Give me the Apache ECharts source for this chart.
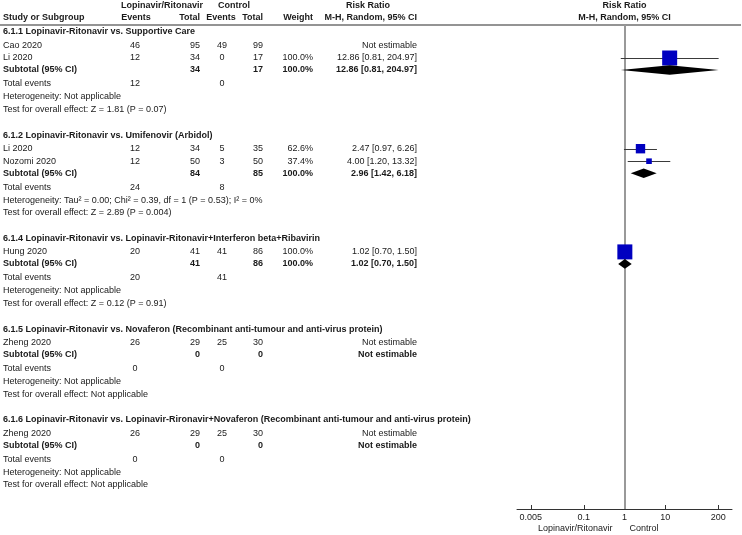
<!DOCTYPE html>
<html><head><meta charset="utf-8">
<script src="https://cdn.jsdelivr.net/npm/echarts@6/dist/echarts.min.js"></script>
<style>html,body{margin:0;padding:0;background:#fff}#c{width:742px;height:535px}</style>
</head><body><div id="c"></div>
<script>
// ================= DATA =================
const groupTitles = [
  '6.1.1 Lopinavir-Ritonavir vs. Supportive Care',
  '6.1.2 Lopinavir-Ritonavir vs. Umifenovir (Arbidol)',
  '6.1.4 Lopinavir-Ritonavir vs. Lopinavir-Ritonavir+Interferon beta+Ribavirin',
  '6.1.5 Lopinavir-Ritonavir vs. Novaferon (Recombinant anti-tumour and anti-virus protein)',
  '6.1.6 Lopinavir-Ritonavir vs. Lopinavir-Rironavir+Novaferon (Recombinant anti-tumour and anti-virus protein)'
];
const studyNames  = ['Cao 2020', 'Li 2020', 'Li 2020', 'Nozomi 2020', 'Hung 2020', 'Zheng 2020', 'Zheng 2020'];
const studyGroup  = [0, 0, 1, 1, 2, 3, 4];
const expEvents   = [46, 12, 12, 12, 20, 26, 26];
const expTotal    = [95, 34, 34, 50, 41, 29, 29];
const ctlEvents   = [49, 0, 5, 3, 41, 25, 25];
const ctlTotal    = [99, 17, 35, 50, 86, 30, 30];
const studyWeight = [null, 100.0, 62.6, 37.4, 100.0, null, null];
const studyRR     = [null, 12.86, 2.47, 4.00, 1.02, null, null];
const studyLow    = [null, 0.81, 0.97, 1.20, 0.70, null, null];
const studyHigh   = [null, 204.97, 6.26, 13.32, 1.50, null, null];

const subExpTotal = [34, 84, 41, 0, 0];
const subCtlTotal = [17, 85, 86, 0, 0];
const subWeight   = [100.0, 100.0, 100.0, null, null];
const subRR       = [12.86, 2.96, 1.02, null, null];
const subLow      = [0.81, 1.42, 0.70, null, null];
const subHigh     = [204.97, 6.18, 1.50, null, null];
const totExpEvents = [12, 24, 20, 0, 0];
const totCtlEvents = [0, 8, 41, 0, 0];
const heterogeneity = [
  'Heterogeneity: Not applicable',
  'Heterogeneity: Tau\u00b2 = 0.00; Chi\u00b2 = 0.39, df = 1 (P = 0.53); I\u00b2 = 0%',
  'Heterogeneity: Not applicable',
  'Heterogeneity: Not applicable',
  'Heterogeneity: Not applicable'
];
const overallEffect = [
  'Test for overall effect: Z = 1.81 (P = 0.07)',
  'Test for overall effect: Z = 2.89 (P = 0.004)',
  'Test for overall effect: Z = 0.12 (P = 0.91)',
  'Test for overall effect: Not applicable',
  'Test for overall effect: Not applicable'
];
const xTickValues = [0.005, 0.1, 1, 10, 200];
const xTickLabels = ['0.005', '0.1', '1', '10', '200'];
const favourLeft  = 'Lopinavir/Ritonavir';
const favourRight = 'Control';
const headerTop = { exp: 'Lopinavir/Ritonavir', ctl: 'Control', rr: 'Risk Ratio' };
const headerSub = { name: 'Study or Subgroup', ev: 'Events', tot: 'Total', w: 'Weight', rr: 'M-H, Random, 95% CI' };
const notEst = 'Not estimable';

// ================= LAYOUT =================
const FF = '"Liberation Sans", Arial, Helvetica, sans-serif';
const FS = 9;
const TXT = '#1a1a1a';
const COL = { name: 3, expEvC: 135, expTotR: 200, ctlEvC: 222, ctlTotR: 263, wR: 313, rrR: 417,
              expHdrC: 162, ctlHdrC: 234, rrHdrC: 368, evHdr1C: 136, evHdr2C: 221 };
const L = { hdr1: 6, hdr2: 17.5, rule: 25, firstHeader: 32, headerToStudy: 13.5, studyPitch: 12.5,
            studyToSub: 12, subToTotal: 14, totalToHet: 13, hetToTest: 12.7, testToHeader: 25.5 };
const PLOT = { left: 517, width: 215, top: 25, bottom: 509, logMin: -2.64, logMax: 2.64 };
const PLOT_C = PLOT.left + PLOT.width / 2;

const fmt2 = v => v.toFixed(2);
const ciText = (e, l, h) => fmt2(e) + ' [' + fmt2(l) + ', ' + fmt2(h) + ']';
const wText = w => w.toFixed(1) + '%';

const items = [];
function T(x, y, text, align, bold) { items.push({ x, y, text: String(text), align, bold: !!bold }); }
const marks = [];

// headers
T(COL.expHdrC, L.hdr1, headerTop.exp, 'center', true);
T(COL.ctlHdrC, L.hdr1, headerTop.ctl, 'center', true);
T(COL.rrHdrC, L.hdr1, headerTop.rr, 'center', true);
T(PLOT_C, L.hdr1, headerTop.rr, 'center', true);
T(COL.name, L.hdr2, headerSub.name, 'left', true);
T(COL.evHdr1C, L.hdr2, headerSub.ev, 'center', true);
T(COL.expTotR, L.hdr2, headerSub.tot, 'right', true);
T(COL.evHdr2C, L.hdr2, headerSub.ev, 'center', true);
T(COL.ctlTotR, L.hdr2, headerSub.tot, 'right', true);
T(COL.wR, L.hdr2, headerSub.w, 'right', true);
T(COL.rrR, L.hdr2, headerSub.rr, 'right', true);
T(PLOT_C, L.hdr2, headerSub.rr, 'center', true);

let y = L.firstHeader;
groupTitles.forEach((title, g) => {
  if (g > 0) y += L.testToHeader;
  T(COL.name, y, title, 'left', true);
  y += L.headerToStudy - L.studyPitch;
  studyNames.forEach((nm, i) => {
    if (studyGroup[i] !== g) return;
    y += L.studyPitch;
    T(COL.name, y, nm, 'left');
    T(COL.expEvC, y, expEvents[i], 'center');
    T(COL.expTotR, y, expTotal[i], 'right');
    T(COL.ctlEvC, y, ctlEvents[i], 'center');
    T(COL.ctlTotR, y, ctlTotal[i], 'right');
    if (studyWeight[i] != null) T(COL.wR, y, wText(studyWeight[i]), 'right');
    if (studyRR[i] != null) {
      T(COL.rrR, y, ciText(studyRR[i], studyLow[i], studyHigh[i]), 'right');
      marks.push({ kind: 'study', low: studyLow[i], high: studyHigh[i], est: studyRR[i], y, w: studyWeight[i] });
    } else T(COL.rrR, y, notEst, 'right');
  });
  y += L.studyToSub;
  T(COL.name, y, 'Subtotal (95% CI)', 'left', true);
  T(COL.expTotR, y, subExpTotal[g], 'right', true);
  T(COL.ctlTotR, y, subCtlTotal[g], 'right', true);
  if (subWeight[g] != null) T(COL.wR, y, wText(subWeight[g]), 'right', true);
  if (subRR[g] != null) {
    T(COL.rrR, y, ciText(subRR[g], subLow[g], subHigh[g]), 'right', true);
    marks.push({ kind: 'sub', low: subLow[g], high: subHigh[g], est: subRR[g], y });
  } else T(COL.rrR, y, notEst, 'right', true);
  y += L.subToTotal;
  T(COL.name, y, 'Total events', 'left');
  T(COL.expEvC, y, totExpEvents[g], 'center');
  T(COL.ctlEvC, y, totCtlEvents[g], 'center');
  y += L.totalToHet;
  T(COL.name, y, heterogeneity[g], 'left');
  y += L.hetToTest;
  T(COL.name, y, overallEffect[g], 'left');
});
T(PLOT_C - 12, 529, favourLeft, 'right');
T(PLOT_C + 5, 529, favourRight, 'left');

const logTicks = xTickValues.map(v => Math.log10(v));
const clampL = v => Math.max(PLOT.logMin, Math.min(PLOT.logMax, v));

const chart = echarts.init(document.getElementById('c'), null, { renderer: 'canvas' });
chart.setOption({
  animation: false,
  backgroundColor: '#fff',
  grid: [
    { left: 0, top: 0, width: 742, height: 535 },
    { left: PLOT.left, top: PLOT.top, width: PLOT.width, height: PLOT.bottom - PLOT.top }
  ],
  xAxis: [
    { gridIndex: 0, type: 'value', min: 0, max: 742, show: false },
    { gridIndex: 1, type: 'value', min: PLOT.logMin, max: PLOT.logMax,
      axisLine: { show: true, lineStyle: { color: '#333', width: 1 } },
      axisTick: { show: true, inside: true, length: 4, customValues: logTicks, lineStyle: { color: '#333' } },
      axisLabel: { show: true, customValues: logTicks, margin: 4, fontSize: FS, fontFamily: FF, color: TXT,
        formatter: v => { let k = 0, d = 1e9; logTicks.forEach((t, i) => { if (Math.abs(t - v) < d) { d = Math.abs(t - v); k = i; } }); return xTickLabels[k]; } },
      splitLine: { show: false } }
  ],
  yAxis: [
    { gridIndex: 0, type: 'value', min: 0, max: 535, inverse: true, show: false },
    { gridIndex: 1, type: 'value', min: PLOT.top, max: PLOT.bottom, inverse: true, show: false }
  ],
  graphic: [
    { type: 'line', shape: { x1: 0, y1: L.rule, x2: 741, y2: L.rule }, style: { stroke: '#707070', lineWidth: 1.5 }, silent: true }
  ],
  series: [
    {
      type: 'line', xAxisIndex: 1, yAxisIndex: 1, data: [], z: 1, silent: true,
      markLine: { silent: true, symbol: 'none', z: 1, label: { show: false }, animation: false,
        lineStyle: { color: '#999', width: 2, type: 'solid' }, data: [{ xAxis: 0 }] }
    },
    {
      type: 'custom', xAxisIndex: 1, yAxisIndex: 1,
      data: marks.map(m => [Math.log10(m.low), Math.log10(m.high), Math.log10(m.est), m.y]),
      encode: { x: [0, 1, 2], y: 3 },
      renderItem: (params, api) => {
        const m = marks[params.dataIndex];
        const yy = api.value(3);
        const pLo = api.coord([clampL(api.value(0)), yy]);
        const pHi = api.coord([clampL(api.value(1)), yy]);
        const pE = api.coord([api.value(2), yy]);
        if (m.kind === 'study') {
          const s = Math.max(4, 15 * m.w / 100);
          const yl = Math.round(pE[1]) + 0.5;
          return { type: 'group', children: [
            { type: 'line', shape: { x1: pLo[0], y1: yl, x2: pHi[0], y2: yl }, style: { stroke: '#3a3a3a', lineWidth: 1 } },
            { type: 'rect', shape: { x: pE[0] - s / 2, y: pE[1] - s / 2, width: s, height: s }, style: { fill: '#0000C0' } }
          ] };
        }
        const h = 4.8;
        return { type: 'polygon', shape: { points: [[pLo[0], pE[1]], [pE[0], pE[1] - h], [pHi[0], pE[1]], [pE[0], pE[1] + h]] }, style: { fill: '#000' } };
      },
      z: 10
    },
    {
      type: 'custom', xAxisIndex: 0, yAxisIndex: 0, silent: true,
      data: items.map(t => [t.x, t.y]),
      renderItem: (params, api) => {
        const t = items[params.dataIndex];
        const p = api.coord([api.value(0), api.value(1)]);
        return { type: 'text', x: p[0], y: p[1], style: {
          text: t.text, align: t.align, verticalAlign: 'middle',
          font: (t.bold ? 'bold ' : '') + FS + 'px ' + FF, fill: TXT } };
      },
      z: 11
    }
  ]
});
</script></body></html>
